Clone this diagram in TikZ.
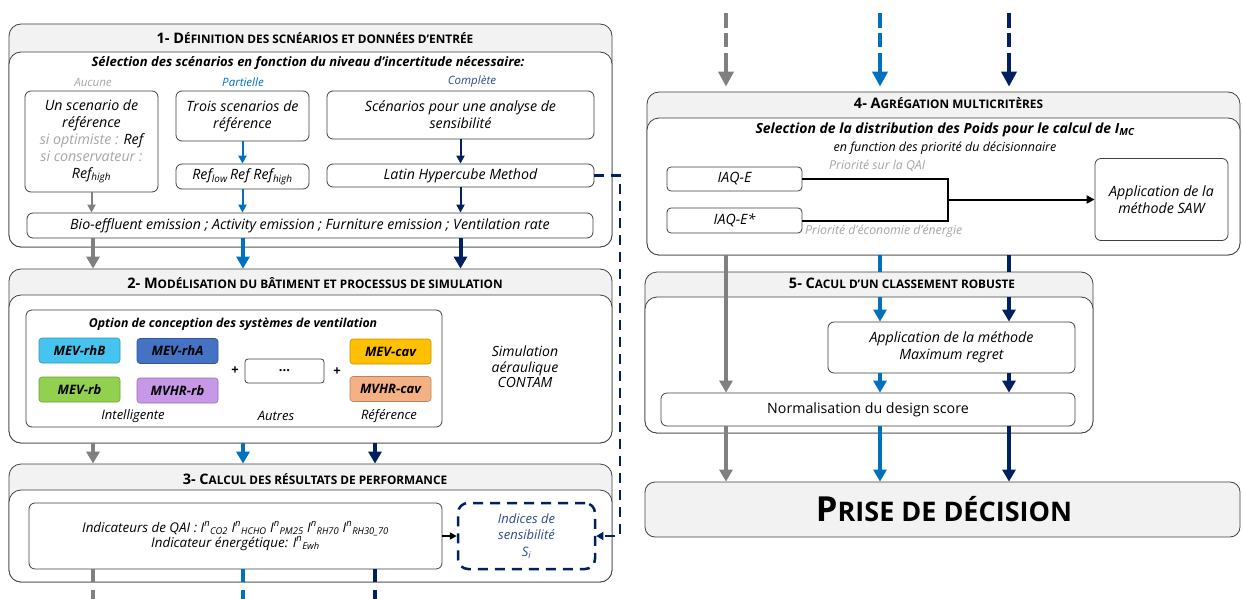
\documentclass[tikz,border=0pt]{standalone}
\usepackage{fontspec}
\setmainfont{Open Sans}
\usetikzlibrary{arrows.meta}
\definecolor{cg}{HTML}{808080}
\definecolor{cb}{HTML}{0070C0}
\definecolor{cn}{HTML}{002060}
\definecolor{ctn}{HTML}{2B4C8C}
\definecolor{cl}{HTML}{A6A6A6}
\definecolor{cbd}{HTML}{404040}
\definecolor{cfill}{HTML}{F2F2F2}
\definecolor{c1}{HTML}{45C4F0}
\definecolor{c2}{HTML}{4472C4}
\definecolor{c3}{HTML}{92D050}
\definecolor{c4}{HTML}{C797E8}
\definecolor{c5}{HTML}{FFC000}
\definecolor{c6}{HTML}{F4B183}
\newcommand\tsc[1]{{\fontsize{11.8}{12}\selectfont #1}}
\tikzset{
 secout/.style={draw=cbd, line width=0.8pt, fill=cfill, rounded corners=12pt, inner sep=0pt},
 secin/.style={draw=cbd, line width=0.8pt, fill=white, rounded corners=12pt, inner sep=0pt},
 ibox/.style={draw=cbd, line width=0.8pt, fill=white, rounded corners=6pt, inner sep=0pt, align=center, font=\fontsize{14.2}{17}\selectfont\itshape},
 cbox/.style={draw=#1!75!black, line width=0.6pt, fill=#1, rounded corners=3pt, inner sep=0pt, minimum width=81pt, minimum height=25pt, font=\fontsize{13}{14}\selectfont\bfseries\itshape},
 ttl/.style={inner sep=0pt, font=\fontsize{14.5}{15}\selectfont\bfseries},
 lbl/.style={inner sep=0pt, align=center, font=\fontsize{13}{16.5}\selectfont\itshape},
 small/.style={inner sep=0pt, font=\fontsize{11.5}{13}\selectfont\itshape},
 arrG/.style={draw=cg, line width=4pt, -{Triangle[width=13pt,length=12pt]}},
 arrB/.style={draw=cb, line width=4pt, -{Triangle[width=13pt,length=12pt]}},
 arrN/.style={draw=cn, line width=4pt, -{Triangle[width=13pt,length=12pt]}},
 thinG/.style={draw=cg, line width=2pt, -{Triangle[width=8pt,length=8pt]}},
 thinB/.style={draw=cb, line width=2pt, -{Triangle[width=8pt,length=8pt]}},
 thinN/.style={draw=cn, line width=2pt, -{Triangle[width=8pt,length=8pt]}},
 blk/.style={draw=black, line width=2pt},
 topdash/.style={dash pattern=on 15pt off 5pt on 14pt off 6pt on 200pt, shorten >=5pt, line width=4.5pt, -{Triangle[width=15pt,length=15pt]}},
}
\begin{document}
\begin{tikzpicture}[x=1pt,y=-1pt]
\useasboundingbox (0,0) rectangle (1242,599);
% x guide coordinates
\coordinate (xg) at (93,0);
\coordinate (xb) at (243,0);
\coordinate (xn1) at (460.5,0);
\coordinate (xn2) at (375,0);
\coordinate (rg) at (726,0);
\coordinate (rb) at (880,0);
\coordinate (rn) at (1009,0);

% ---------- Section 1
\node[secout, minimum width=603pt, minimum height=223pt] (s1o) at (310.5,135.5) {};
\node[secin, minimum width=603pt, minimum height=195pt] (s1i) at (310.5,149.5) {};
\node[ttl] (s1t) at (315,38) {1- D\tsc{ÉFINITION DES SCNÉARIOS ET DONNÉES D’ENTRÉE}};
\node[inner sep=0pt, font=\fontsize{13}{15}\selectfont\bfseries\itshape] (s1s) at (308,63) {Sélection des scénarios en fonction du niveau d'incertitude nécessaire:};
\node[small, text=cl] (la) at (93,82) {Aucune};
\node[small, text=cb] (lp) at (243,82) {Partielle};
\node[small, text=ctn] (lc) at (472,81) {Complète};
\node[ibox, minimum width=133pt, minimum height=101pt] (A) at (91.5,141.5) {Un scenario de\\référence\\{\color{cl}si optimiste :} Ref\\{\color{cl}si conservateur :}\\Ref\textsubscript{high}};
\node[ibox, minimum width=133pt, minimum height=50pt] (B) at (242.5,116) {Trois scenarios de\\référence};
\node[ibox, minimum width=133pt, minimum height=25pt] (B2) at (242.5,176.5) {Ref\textsubscript{low}\,Ref Ref\textsubscript{high}};
\node[ibox, minimum width=267pt, minimum height=48pt] (C) at (460.5,115) {Scénarios pour une analyse de\\sensibilité};
\node[ibox, minimum width=267pt, minimum height=23pt] (C2) at (460.5,175.5) {Latin Hypercube Method};
\node[ibox, minimum width=566pt, minimum height=25pt] (bar) at (310,225.5) {Bio-effluent emission ; Activity emission ; Furniture emission ; Ventilation rate};
\draw[thinG] (A.south) -- (bar.north -| A.south);
\draw[thinB] (B.south) -- (B2.north);
\draw[thinB] (B2.south) -- (bar.north -| B2.south);
\draw[thinN] (C.south) -- (C2.north);
\draw[thinN] (C2.south) -- (bar.north -| C2.south);

% ---------- Section 2
\node[secout, minimum width=603pt, minimum height=174pt] (s2o) at (310.5,356) {};
\node[secin, minimum width=603pt, minimum height=148pt] (s2i) at (310.5,369) {};
\node[ttl] (s2t) at (315,283) {2- M\tsc{ODÉLISATION DU BÂTIMENT ET PROCESSUS DE SIMULATION}};
\node[ibox, minimum width=416pt, minimum height=117pt] (opt) at (234,368.5) {};
\node[inner sep=0pt, font=\fontsize{12.3}{14}\selectfont\bfseries\itshape] (optt) at (233,324) {Option de conception des systèmes de ventilation};
\node[cbox=c1] (m1) at (79.5,350.5) {MEV-rhB};
\node[cbox=c2] (m2) at (177.5,351) {MEV-rhA};
\node[cbox=c3] (m3) at (79.5,389.5) {MEV-rb};
\node[cbox=c4] (m4) at (177.5,390.5) {MVHR-rb};
\node[cbox=c5] (m5) at (390.5,351.5) {MEV-cav};
\node[cbox=c6] (m6) at (390.5,389) {MVHR-cav};
\node[draw=cbd, line width=0.8pt, fill=white, rounded corners=3pt, minimum width=79pt, minimum height=24pt, inner sep=0pt, font=\fontsize{13}{14}\selectfont\bfseries] (dots) at (284.5,371) {...};
\node[inner sep=0pt, font=\fontsize{13}{14}\selectfont\bfseries] (p1) at (235,371) {+};
\node[inner sep=0pt, font=\fontsize{13}{14}\selectfont\bfseries] (p2) at (337,372) {+};
\node[lbl] (li) at (133,416) {Intelligente};
\node[lbl] (lo) at (276,416) {Autres};
\node[lbl] (lr) at (389,416) {Référence};
\node[lbl, font=\fontsize{14}{15.5}\selectfont\itshape] (sim) at (525,367) {Simulation\\aéraulique\\CONTAM};

% ---------- Section 3
\node[secout, minimum width=603pt, minimum height=118pt] (s3o) at (310.5,523) {};
\node[secin, minimum width=603pt, minimum height=92pt] (s3i) at (310.5,536) {};
\node[ttl] (s3t) at (315,479) {3- C\tsc{ALCUL DES RÉSULTATS DE PERFORMANCE}};
\node[ibox, minimum width=413pt, minimum height=66pt, font=\fontsize{13.4}{15}\selectfont\itshape] (ind) at (235.5,536) {Indicateurs de QAI : I\textsuperscript{n}\textsubscript{CO2} I\textsuperscript{n}\textsubscript{HCHO} I\textsuperscript{n}\textsubscript{PM25} I\textsuperscript{n}\textsubscript{RH70} I\textsuperscript{n}\textsubscript{RH30\_70}\\Indicateur énergétique: I\textsuperscript{n}\textsubscript{Ewh}};
\node[draw=cn, line width=2.5pt, dash pattern=on 10pt off 7pt, rounded corners=10pt, minimum width=137pt, minimum height=66pt, inner sep=0pt, align=center, text=ctn, font=\fontsize{13}{16.5}\selectfont\itshape] (sens) at (526.5,536) {Indices de\\sensibilité\\S\textsubscript{i}};
\draw[blk, -{Triangle[width=7pt,length=7pt]}] (ind.east) -- (sens.west);
% dashed feedback
\coordinate (dk1) at (620,175.5);
\coordinate (dk2) at (620,536);
\draw[draw=cn, line width=2.5pt, dash pattern=on 10pt off 7pt, -{Triangle[width=8pt,length=7pt]}] (C2.east) -- (dk1) -- (dk2) -- (sens.east);

% stems leaving section 3
\coordinate (bg) at (93,600);
\coordinate (bb) at (243,600);
\coordinate (bn) at (375,600);
\draw[draw=cg, line width=4pt, dash pattern=on 13pt off 8pt] (ind.south -| xg) -- (bg);
\draw[draw=cb, line width=4pt, dash pattern=on 13pt off 8pt] (ind.south -| xb) -- (bb);
\draw[draw=cn, line width=4pt, dash pattern=on 13pt off 8pt] (ind.south -| xn2) -- (bn);

% arrows between left sections
\draw[arrG] (bar.south -| xg) -- (s2o.north -| xg);
\draw[arrB] (bar.south -| xb) -- (s2o.north -| xb);
\draw[arrN] (bar.south -| xn1) -- (s2o.north -| xn1);
\draw[arrG] (s2o.south -| xg) -- (s3o.north -| xg);
\draw[arrB] (s2o.south -| xb) -- (s3o.north -| xb);
\draw[arrN] (s2o.south -| xn2) -- (s3o.north -| xn2);

% ---------- Section 4
\node[secout, minimum width=593pt, minimum height=163pt] (s4o) at (943.5,173.5) {};
\node[secin, minimum width=593pt, minimum height=137pt] (s4i) at (943.5,186.5) {};
\node[ttl] (s4t) at (948.5,103) {4- A\tsc{GRÉGATION MULTICRITÈRES}};
\node[inner sep=0pt, font=\fontsize{14}{16}\selectfont\bfseries\itshape] (s4s) at (945,130) {Selection de la distribution des Poids pour le calcul de I\textsubscript{MC}};
\node[inner sep=0pt, font=\fontsize{12.5}{14}\selectfont\itshape] (s4s2) at (945,148) {en function des priorité du décisionnaire};
\node[inner sep=0pt, anchor=west, text=cl, font=\fontsize{12.3}{14}\selectfont\itshape] (pq) at (829,166) {Priorité sur la QAI};
\node[inner sep=0pt, anchor=west, text=cl, font=\fontsize{12.3}{14}\selectfont\itshape] (pe) at (805,231) {Priorité d’économie d’énergie};
\node[ibox, rounded corners=4pt, minimum width=135pt, minimum height=24pt] (iq) at (734.5,179) {IAQ-E};
\node[ibox, rounded corners=4pt, minimum width=135pt, minimum height=25pt] (iqs) at (734.5,220.5) {IAQ-E*};
\node[ibox, minimum width=133pt, minimum height=82pt] (saw) at (1161.5,199.5) {Application de la\\méthode SAW};
\coordinate (jn) at (948,199.5);
\draw[blk] (iq.east) -| (jn) |- (iqs.east);
\draw[blk, -{Triangle[width=8pt,length=8pt]}] (jn) -- (saw.west);

% incoming arrows top right
\coordinate (tg) at (726,13);
\coordinate (tb) at (880,13);
\coordinate (tn) at (1009,13);
\draw[draw=cg, topdash] (tg) -- (s4o.north -| rg);
\draw[draw=cb, topdash] (tb) -- (s4o.north -| rb);
\draw[draw=cn, topdash] (tn) -- (s4o.north -| rn);

% ---------- Section 5
\node[secout, minimum width=448pt, minimum height=161pt] (s5o) at (869,352.5) {};
\node[secin, minimum width=448pt, minimum height=136pt] (s5i) at (869,365) {};
\node[ttl] (s5t) at (902,283) {5- C\tsc{ACUL D’UN CLASSEMENT ROBUSTE}};
\node[ibox, minimum width=247pt, minimum height=51pt] (mr) at (951.5,347.5) {Application de la méthode\\Maximum regret};
\node[ibox, font=\fontsize{14.2}{16}\selectfont, minimum width=414pt, minimum height=33pt] (nm) at (868,409.5) {Normalisation du design score};

\draw[arrG] (s4o.south -| rg) -- (nm.north -| rg);
\draw[draw=cb, line width=4pt] (s4o.south -| rb) -- (s5o.north -| rb);
\draw[draw=cn, line width=4pt] (s4o.south -| rn) -- (s5o.north -| rn);
\draw[arrB] (s5i.north -| rb) -- (mr.north -| rb);
\draw[arrN] (s5i.north -| rn) -- (mr.north -| rn);
\draw[arrB] (mr.south -| rb) -- (nm.north -| rb);
\draw[arrN] (mr.south -| rn) -- (nm.north -| rn);

% ---------- Decision
\node[draw=cbd, line width=0.8pt, fill=cfill, rounded corners=10pt, minimum width=595pt, minimum height=55pt, inner sep=0pt, font=\bfseries] (pd) at (942.5,509.5) {};
\node[inner sep=0pt, font=\bfseries] (pdt) at (944,509.5) {{\fontsize{34.5}{36}\selectfont P}{\fontsize{27}{28}\selectfont RISE DE DÉCISION}};
\draw[arrG] (nm.south -| rg) -- (pd.north -| rg);
\draw[arrB] (nm.south -| rb) -- (pd.north -| rb);
\draw[arrN] (nm.south -| rn) -- (pd.north -| rn);
\end{tikzpicture}
\end{document}
